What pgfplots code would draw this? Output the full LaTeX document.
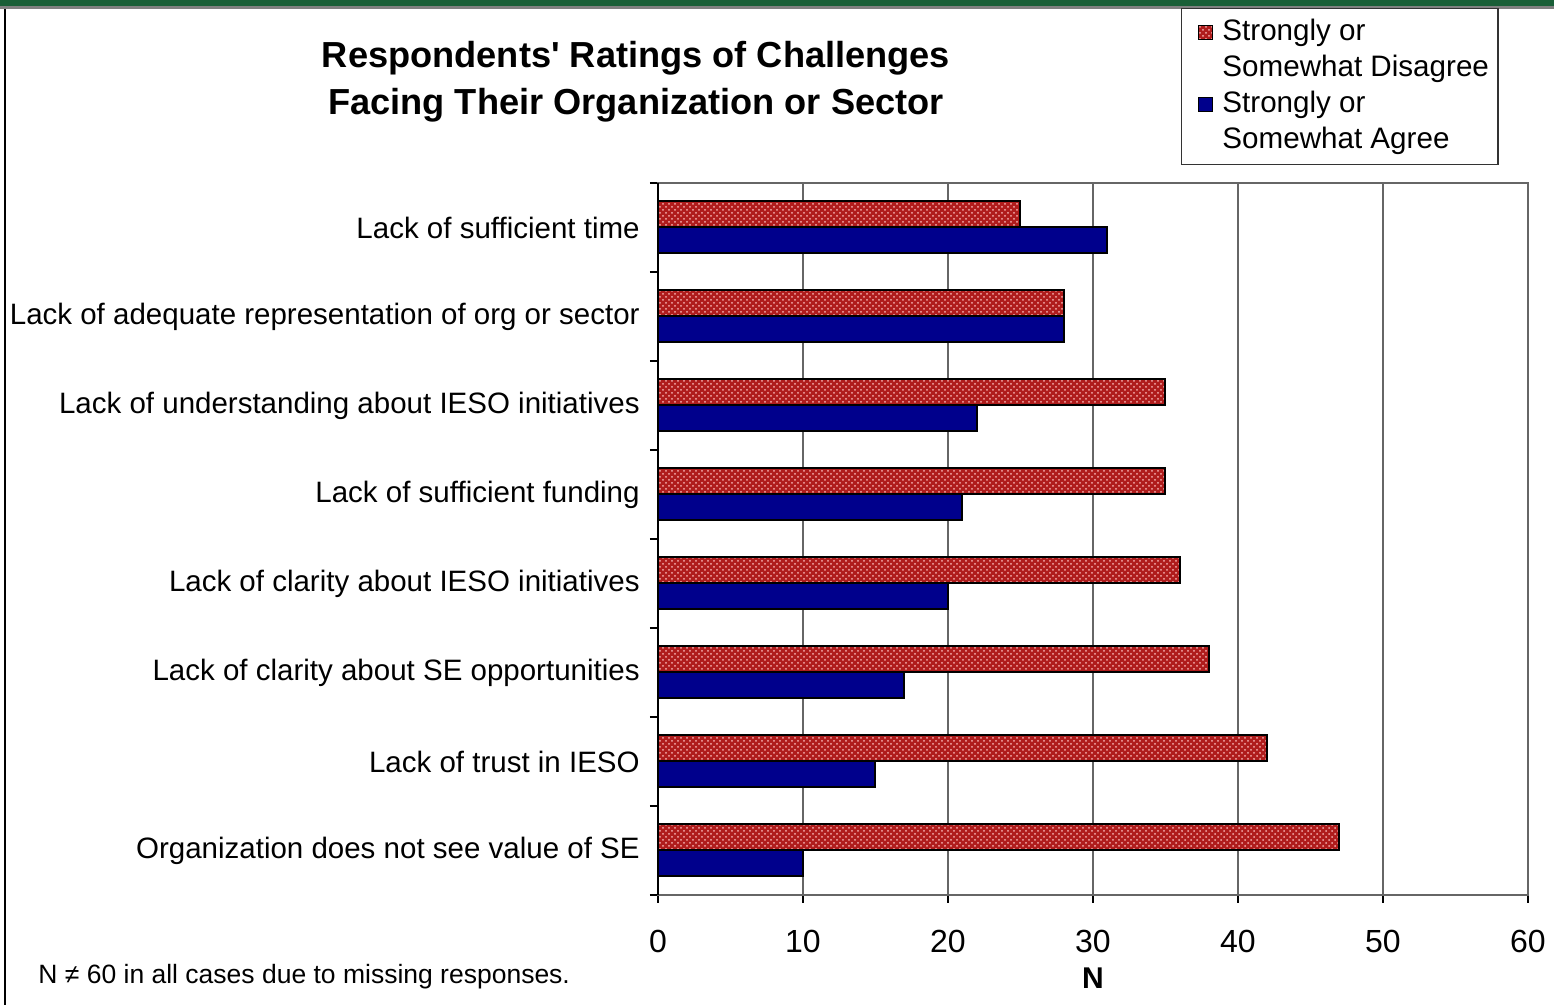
\documentclass[border=0pt]{standalone}
\usepackage{fontspec}
\setmainfont{Liberation Sans}
\usepackage{pgfplots}
\pgfplotsset{compat=1.18}
\usetikzlibrary{patterns}
\definecolor{barred}{RGB}{175,28,28}
\definecolor{dotred}{RGB}{245,175,175}
\definecolor{barblue}{RGB}{0,0,140}
\definecolor{framegreen}{RGB}{25,95,55}
\newcommand{\sq}{\XeTeXglyph\the\XeTeXglyphindex "quotesingle"\relax}
\begin{document}
\begin{tikzpicture}[x=0.5pt,y=0.5pt]
\path[use as bounding box] (0,0) rectangle (1554,1005);
\fill[framegreen] (0,999) rectangle (1554,1005);
\fill[gray] (0,996) rectangle (1554,999);
\draw[line width=1pt] (5,0) -- (5,996);
\node[font=\bfseries\fontsize{18.1}{23.5}\selectfont, align=center] at (636,923.5) {Respondents\sq\ Ratings of Challenges\\Facing Their Organization or Sector};
\node[anchor=base west, font=\fontsize{13.25}{16}\selectfont, inner sep=0pt] at (38,21) {N ≠ 60 in all cases due to missing responses.};
\begin{axis}[
  at={(329pt,55pt)}, anchor=south west,
  scale only axis, width=435pt, height=356pt,
  xmin=0, xmax=60, ymin=-0.5, ymax=7.5,
  xtick={0,10,...,60},
  xmajorgrids, major grid style={black!60, line width=0.6pt},
  ytick={0,...,7},
  yticklabels={Organization does not see value of SE, Lack of trust in IESO, Lack of clarity about SE opportunities, Lack of clarity about IESO initiatives, Lack of sufficient funding, {Lack of understanding about IESO initiatives\ }, Lack of adequate representation of org or sector, Lack of sufficient time},
  minor ytick={-0.5,0.5,...,7.5},
  every major y tick/.style={draw=none},
  every minor y tick/.style={black, line width=0.8pt},
  every major x tick/.style={black, line width=0.8pt},
  tick pos=left,
  tick align=outside, major tick length=4pt, minor tick length=4pt,
  axis line style={draw=gray!80!black, line width=0.9pt},
  /pgf/number format/assume math mode=true,
  yticklabel style={font=\fontsize{14.75}{18}\selectfont, anchor=east, inner sep=0pt, xshift=-5pt},
  xticklabel style={font=\fontsize{16}{18}\selectfont, anchor=north, inner sep=0pt, yshift=-13.5pt},
  xlabel={\textbf{N}},
  xlabel style={font=\fontsize{15}{18}\selectfont, at={(axis description cs:0.5,0)}, anchor=north, inner sep=0pt, yshift=-36.3pt},
  legend style={at={(0.601,1.2458)}, anchor=north west, draw=black!80, line width=0.6pt,
    font=\fontsize{14.8}{18}\selectfont, inner xsep=2.5pt, inner ysep=3pt, row sep=0pt,
    nodes={text height=11pt, text depth=3pt, inner sep=2pt}},
  legend cell align=left,
  legend image code/.code={\path (-5.5pt,0pt); \draw[#1, line width=0.8pt] (0pt,-3.5pt) rectangle (7pt,3.5pt); \path (9.5pt,0pt);},
]
\addplot[xbar, bar width=13pt, bar shift=6.5pt, fill=barred, draw=black, line width=1pt,
  postaction={pattern=crosshatch dots, pattern color=dotred}]
  coordinates {(47,0) (42,1) (38,2) (36,3) (35,4) (35,5) (28,6) (25,7)};
\addlegendentry{Strongly or}
\addlegendimage{empty legend}
\addlegendentry{Somewhat Disagree}
\addplot[xbar, bar width=13pt, bar shift=-6.5pt, fill=barblue, draw=black, line width=1pt]
  coordinates {(10,0) (15,1) (17,2) (20,3) (21,4) (22,5) (28,6) (31,7)};
\addlegendentry{Strongly or}
\addlegendimage{empty legend}
\addlegendentry{Somewhat Agree}
\end{axis}
\draw[black, line width=0.9pt] (658,110) -- (658,822);
\end{tikzpicture}
\end{document}
